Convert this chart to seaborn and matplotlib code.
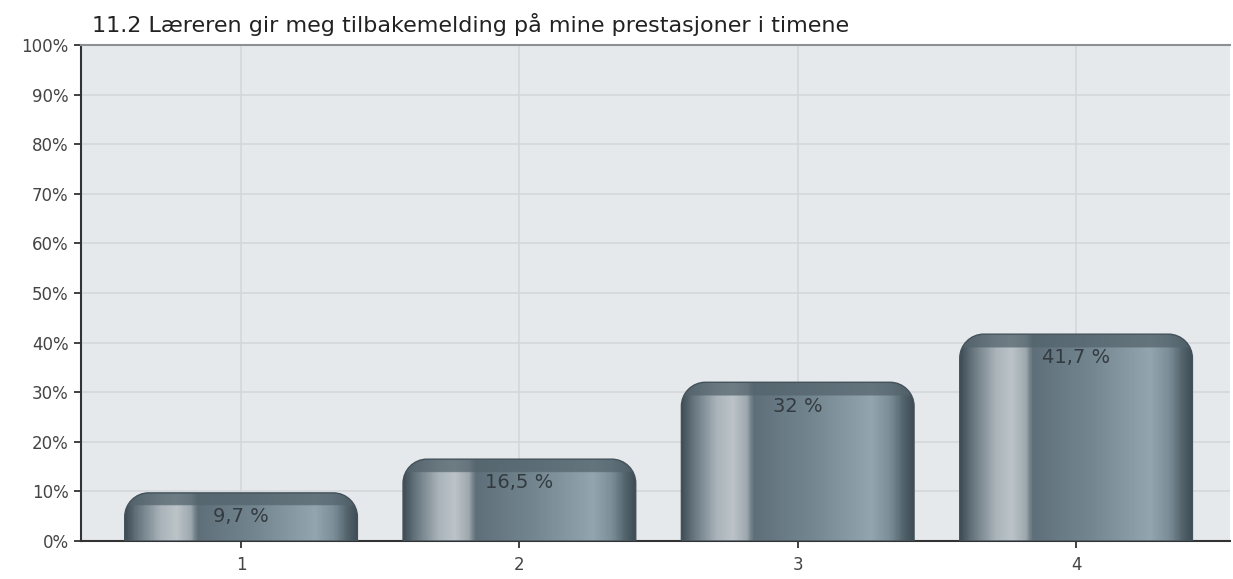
import numpy as np
import pandas as pd
import matplotlib
matplotlib.use("Agg")
import matplotlib.pyplot as plt
import seaborn as sns
from matplotlib.path import Path
from matplotlib.patches import PathPatch
from matplotlib.colors import LinearSegmentedColormap, to_rgb
from matplotlib.ticker import MultipleLocator, FuncFormatter

title = "11.2 Læreren gir meg tilbakemelding på mine prestasjoner i timene"
categories = ["1", "2", "3", "4"]
values = [9.7, 16.5, 32, 41.7]
value_labels = ["9,7 %", "16,5 %", "32 %", "41,7 %"]

sns.set_theme(style="white")
plt.rcParams["font.family"] = ["DejaVu Sans"]

fig = plt.figure(figsize=(12.33, 5.79), dpi=100)
ax = fig.add_axes([81 / 1233, 1 - 541 / 579, (1230 - 81) / 1233, (541 - 45) / 579])
ax.set_facecolor("#e6e9ec")

df = pd.DataFrame({"cat": categories, "val": values})
sns.barplot(data=df, x="cat", y="val", ax=ax, width=0.836, color="#6f828d", zorder=3)

ax.set_xlim(-0.575, 3.553)
ax.set_ylim(0, 100)
ax.yaxis.set_major_locator(MultipleLocator(10))
ax.yaxis.set_major_formatter(FuncFormatter(lambda v, p: f"{int(round(v))}%"))

ax.grid(True, color="#d3d7db", lw=1.2, zorder=0)
ax.set_axisbelow(True)
ax.spines["right"].set_visible(False)
ax.spines["top"].set_color("#8c9094")
ax.spines["top"].set_linewidth(1.5)
ax.spines["left"].set_color("#333333")
ax.spines["left"].set_linewidth(1.5)
ax.spines["bottom"].set_color("#333333")
ax.spines["bottom"].set_linewidth(1.5)
ax.tick_params(axis="both", direction="out", length=5, width=1.3, color="#333333",
               labelsize=12, labelcolor="#444444", left=True, bottom=True)
ax.tick_params(axis="x", pad=6)
ax.tick_params(axis="y", pad=4)
ax.set_xlabel("")
ax.set_ylabel("")

# gradient colormap across a bar's width
cmap = LinearSegmentedColormap.from_list("bar", [
    (0.00, "#3e4d56"),
    (0.05, "#66757e"),
    (0.15, "#a9b3b9"),
    (0.22, "#bcc4c9"),
    (0.28, "#9ea9af"),
    (0.31, "#5f6f79"),
    (0.55, "#72858f"),
    (0.82, "#93a6af"),
    (0.90, "#7b8e98"),
    (0.96, "#52626b"),
    (1.00, "#3e4d56"),
])

px_per_x = (1230 - 81) / (3.553 + 0.575)
px_per_y = (541 - 45) / 100.0
r_px = 24
rx = r_px / px_per_x
ry = r_px / px_per_y
band = 13 / px_per_y
K = 0.5523

for patch, lab in zip(list(ax.patches), value_labels):
    x0 = patch.get_x()
    w = patch.get_width()
    h = patch.get_height()
    patch.set_visible(False)
    x1 = x0 + w
    verts = [(x0, 0), (x0, h - ry),
             (x0, h - ry + K * ry), (x0 + rx - K * rx, h), (x0 + rx, h),
             (x1 - rx, h),
             (x1 - rx + K * rx, h), (x1, h - ry + K * ry), (x1, h - ry),
             (x1, 0), (x0, 0)]
    codes = [Path.MOVETO, Path.LINETO,
             Path.CURVE4, Path.CURVE4, Path.CURVE4,
             Path.LINETO,
             Path.CURVE4, Path.CURVE4, Path.CURVE4,
             Path.LINETO, Path.CLOSEPOLY]
    path = Path(verts, codes)
    clip = PathPatch(path, facecolor="none", edgecolor="none", transform=ax.transData)
    ax.add_patch(clip)
    nx, ny = 300, 200
    xs = np.linspace(0, 1, nx)
    base = cmap(xs)[:, :3]
    ys = np.linspace(0, h, ny)
    img = np.repeat(base[None, :, :], ny, axis=0)
    dark = np.array(to_rgb("#54646d"))
    t = np.where(ys > h - band, 0.75, 0.0)[:, None, None]
    img = img * (1 - t) + dark * t
    im = ax.imshow(img, extent=(x0, x1, 0, h), origin="lower", aspect="auto",
                   interpolation="bilinear", zorder=3)
    im.set_clip_path(clip)
    ax.add_patch(PathPatch(path, facecolor="none", edgecolor="#43525a", lw=1.0, zorder=4))
    ax.text(x0 + w / 2, h - 4.8, lab, ha="center", va="center", fontsize=14,
            color="#333b40", zorder=5)

ax.set_xlim(-0.575, 3.553)
ax.set_ylim(0, 100)

fig.text(92 / 1233, 1 - 25 / 579, title, ha="left", va="center", fontsize=16, color="#222222")

fig.savefig("out.png", dpi=100, facecolor="white")
